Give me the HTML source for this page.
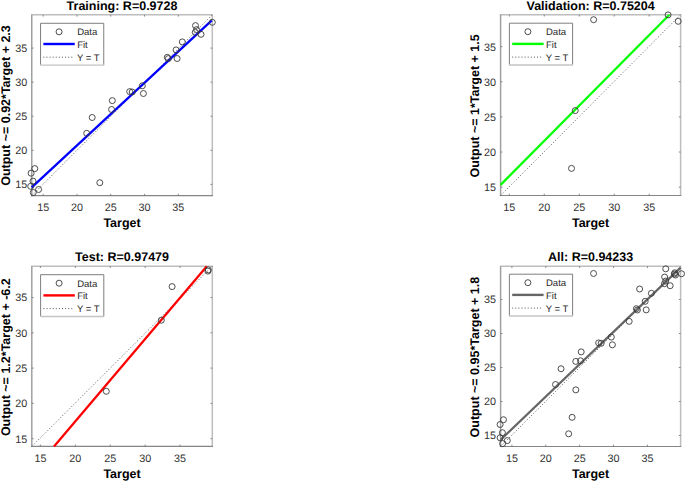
<!DOCTYPE html>
<html><head><meta charset="utf-8"><style>
html,body{margin:0;padding:0;background:#fff;width:685px;height:482px;overflow:hidden}
svg{position:absolute;left:0;top:0}
svg text{font-family:"Liberation Sans",sans-serif;text-rendering:geometricPrecision}
svg circle{fill:none;stroke:#3a3a3a;stroke-width:0.9}
.tk{font-size:10.8px;fill:#333}
.lb{font-size:12.5px;font-weight:bold;fill:#000}
.lg{font-size:9.5px;fill:#262626}
</style></head><body>
<svg width="685" height="482" viewBox="0 0 685 482"><g><path d="M31 14.8H213.05M212.3 14.8V195.6" fill="none" stroke="#bdbdbd" stroke-width="1.5"/><path d="M31.75 14.8V196.2" fill="none" stroke="#a0a0a0" stroke-width="1.5"/><path d="M31 195.6H213.05" fill="none" stroke="#858585" stroke-width="1.2"/><path d="M43.2 195.6v-1.8M43.2 14.8v1.8M31.75 184.4h1.8M212.3 184.4h-1.8M76.97 195.6v-1.8M76.97 14.8v1.8M31.75 150.32h1.8M212.3 150.32h-1.8M110.75 195.6v-1.8M110.75 14.8v1.8M31.75 116.25h1.8M212.3 116.25h-1.8M144.53 195.6v-1.8M144.53 14.8v1.8M31.75 82.17h1.8M212.3 82.17h-1.8M178.3 195.6v-1.8M178.3 14.8v1.8M31.75 48.1h1.8M212.3 48.1h-1.8" stroke="#707070" stroke-width="0.8"/><line x1="31.75" y1="195.6" x2="212.3" y2="14.8" stroke="#555" stroke-width="1" stroke-dasharray="1 2.1"/><line x1="31.75" y1="187.3" x2="211.8" y2="20.45" stroke="#0000ff" stroke-width="2.25"/><circle cx="34.8" cy="168.6" r="3"/><circle cx="31.1" cy="173.2" r="3"/><circle cx="33" cy="181.1" r="3"/><circle cx="30.7" cy="186.3" r="3"/><circle cx="38.6" cy="189.5" r="3"/><circle cx="33.3" cy="192.5" r="3"/><circle cx="99.8" cy="182.7" r="3"/><circle cx="86.7" cy="133.3" r="3"/><circle cx="92.2" cy="117.5" r="3"/><circle cx="112.3" cy="100.6" r="3"/><circle cx="111.6" cy="109.5" r="3"/><circle cx="129.7" cy="91.6" r="3"/><circle cx="132.2" cy="92" r="3"/><circle cx="142.3" cy="85.8" r="3"/><circle cx="143.4" cy="93.5" r="3"/><circle cx="167.3" cy="57.3" r="3"/><circle cx="168.3" cy="58.6" r="3"/><circle cx="176.1" cy="49.9" r="3"/><circle cx="177.1" cy="58.5" r="3"/><circle cx="182.3" cy="41.9" r="3"/><circle cx="195.5" cy="25.6" r="3"/><circle cx="195.3" cy="32.3" r="3"/><circle cx="196.6" cy="29.6" r="3"/><circle cx="201" cy="34.3" r="3"/><circle cx="212.3" cy="22.3" r="3"/><text x="43.2" y="210.7" text-anchor="middle" class="tk">15</text><text x="27.15" y="188.3" text-anchor="end" class="tk">15</text><text x="76.97" y="210.7" text-anchor="middle" class="tk">20</text><text x="27.15" y="154.22" text-anchor="end" class="tk">20</text><text x="110.75" y="210.7" text-anchor="middle" class="tk">25</text><text x="27.15" y="120.15" text-anchor="end" class="tk">25</text><text x="144.53" y="210.7" text-anchor="middle" class="tk">30</text><text x="27.15" y="86.08" text-anchor="end" class="tk">30</text><text x="178.3" y="210.7" text-anchor="middle" class="tk">35</text><text x="27.15" y="52" text-anchor="end" class="tk">35</text><text x="122.03" y="9.7" text-anchor="middle" class="lb">Training: R=0.9728</text><text x="122.03" y="227" text-anchor="middle" class="lb">Target</text><text transform="translate(10.25 105.5) rotate(-90)" text-anchor="middle" class="lb">Output ~= 0.92*Target + 2.3</text><rect x="40.55" y="23.3" width="63.2" height="41.5" fill="#fff"/><path d="M40.55 64.8V23.3H103.75V64.8" fill="none" stroke="#777" stroke-width="0.95"/><path d="M40.1 65.1H104.2" fill="none" stroke="#c4c4c4" stroke-width="1.4"/><circle cx="59.05" cy="31.8" r="3"/><line x1="43.35" y1="44" x2="74.75" y2="44" stroke="#0000ff" stroke-width="2.4"/><line x1="43.35" y1="57.2" x2="73.95" y2="57.2" stroke="#555" stroke-width="1" stroke-dasharray="1 2.1"/><text x="77.15" y="35.4" class="lg">Data</text><text x="77.15" y="47.8" class="lg">Fit</text><text x="76.95" y="60.8" class="lg">Y = T</text></g><g><path d="M499.85 14.7H681.35M680.6 14.7V195.5" fill="none" stroke="#bdbdbd" stroke-width="1.5"/><path d="M500.6 14.7V196.1" fill="none" stroke="#a0a0a0" stroke-width="1.5"/><path d="M499.85 195.5H681.35" fill="none" stroke="#858585" stroke-width="1.2"/><path d="M509.3 195.5v-1.8M509.3 14.7v1.8M500.6 187.2h1.8M680.6 187.2h-1.8M544.27 195.5v-1.8M544.27 14.7v1.8M500.6 152.05h1.8M680.6 152.05h-1.8M579.25 195.5v-1.8M579.25 14.7v1.8M500.6 116.9h1.8M680.6 116.9h-1.8M614.23 195.5v-1.8M614.23 14.7v1.8M500.6 81.75h1.8M680.6 81.75h-1.8M649.2 195.5v-1.8M649.2 14.7v1.8M500.6 46.6h1.8M680.6 46.6h-1.8" stroke="#707070" stroke-width="0.8"/><line x1="500.6" y1="195.5" x2="680.6" y2="14.7" stroke="#555" stroke-width="1" stroke-dasharray="1 2.1"/><line x1="500.6" y1="184.9" x2="669.4" y2="14.7" stroke="#00ff00" stroke-width="2.25"/><circle cx="593.6" cy="19.7" r="3"/><circle cx="668.1" cy="14.9" r="3"/><circle cx="678.2" cy="21.3" r="3"/><circle cx="575.25" cy="110.6" r="3"/><circle cx="571.5" cy="168.4" r="3"/><text x="509.3" y="210.6" text-anchor="middle" class="tk">15</text><text x="496" y="191.1" text-anchor="end" class="tk">15</text><text x="544.27" y="210.6" text-anchor="middle" class="tk">20</text><text x="496" y="155.95" text-anchor="end" class="tk">20</text><text x="579.25" y="210.6" text-anchor="middle" class="tk">25</text><text x="496" y="120.8" text-anchor="end" class="tk">25</text><text x="614.23" y="210.6" text-anchor="middle" class="tk">30</text><text x="496" y="85.65" text-anchor="end" class="tk">30</text><text x="649.2" y="210.6" text-anchor="middle" class="tk">35</text><text x="496" y="50.5" text-anchor="end" class="tk">35</text><text x="590.6" y="9.6" text-anchor="middle" class="lb">Validation: R=0.75204</text><text x="590.6" y="226.9" text-anchor="middle" class="lb">Target</text><text transform="translate(479.1 105.9) rotate(-90)" text-anchor="middle" class="lb">Output ~= 1*Target + 1.5</text><rect x="509.4" y="23.2" width="63.2" height="41.5" fill="#fff"/><path d="M509.4 64.7V23.2H572.6V64.7" fill="none" stroke="#777" stroke-width="0.95"/><path d="M508.95 65H573.05" fill="none" stroke="#c4c4c4" stroke-width="1.4"/><circle cx="527.9" cy="31.7" r="3"/><line x1="512.2" y1="43.9" x2="543.6" y2="43.9" stroke="#00ff00" stroke-width="2.4"/><line x1="512.2" y1="57.1" x2="542.8" y2="57.1" stroke="#555" stroke-width="1" stroke-dasharray="1 2.1"/><text x="546" y="35.3" class="lg">Data</text><text x="546" y="47.7" class="lg">Fit</text><text x="545.8" y="60.7" class="lg">Y = T</text></g><g><path d="M31.05 266.2H213.05M212.3 266.2V446.4" fill="none" stroke="#bdbdbd" stroke-width="1.5"/><path d="M31.8 266.2V447" fill="none" stroke="#a0a0a0" stroke-width="1.5"/><path d="M31.05 446.4H213.05" fill="none" stroke="#858585" stroke-width="1.2"/><path d="M40.4 446.4v-1.8M40.4 266.2v1.8M31.8 438.7h1.8M212.3 438.7h-1.8M75.33 446.4v-1.8M75.33 266.2v1.8M31.8 403.4h1.8M212.3 403.4h-1.8M110.25 446.4v-1.8M110.25 266.2v1.8M31.8 368.1h1.8M212.3 368.1h-1.8M145.18 446.4v-1.8M145.18 266.2v1.8M31.8 332.8h1.8M212.3 332.8h-1.8M180.1 446.4v-1.8M180.1 266.2v1.8M31.8 297.5h1.8M212.3 297.5h-1.8" stroke="#707070" stroke-width="0.8"/><line x1="31.8" y1="446.4" x2="212.3" y2="266.2" stroke="#555" stroke-width="1" stroke-dasharray="1 2.1"/><line x1="54" y1="446.4" x2="206.8" y2="266.2" stroke="#ff0000" stroke-width="2.25"/><circle cx="106.3" cy="391.3" r="3"/><circle cx="161.3" cy="320.2" r="3"/><circle cx="172.1" cy="286.6" r="3"/><circle cx="207.9" cy="271.1" r="3"/><circle cx="208.3" cy="269.8" r="3"/><text x="40.4" y="461.5" text-anchor="middle" class="tk">15</text><text x="27.2" y="442.6" text-anchor="end" class="tk">15</text><text x="75.33" y="461.5" text-anchor="middle" class="tk">20</text><text x="27.2" y="407.3" text-anchor="end" class="tk">20</text><text x="110.25" y="461.5" text-anchor="middle" class="tk">25</text><text x="27.2" y="372" text-anchor="end" class="tk">25</text><text x="145.18" y="461.5" text-anchor="middle" class="tk">30</text><text x="27.2" y="336.7" text-anchor="end" class="tk">30</text><text x="180.1" y="461.5" text-anchor="middle" class="tk">35</text><text x="27.2" y="301.4" text-anchor="end" class="tk">35</text><text x="122.05" y="261.1" text-anchor="middle" class="lb">Test: R=0.97479</text><text x="122.05" y="478.4" text-anchor="middle" class="lb">Target</text><text transform="translate(10.3 357.2) rotate(-90)" text-anchor="middle" class="lb">Output ~= 1.2*Target + -6.2</text><rect x="40.6" y="274.7" width="63.2" height="41.5" fill="#fff"/><path d="M40.6 316.2V274.7H103.8V316.2" fill="none" stroke="#777" stroke-width="0.95"/><path d="M40.15 316.5H104.25" fill="none" stroke="#c4c4c4" stroke-width="1.4"/><circle cx="59.1" cy="283.2" r="3"/><line x1="43.4" y1="295.4" x2="74.8" y2="295.4" stroke="#ff0000" stroke-width="2.4"/><line x1="43.4" y1="308.6" x2="74" y2="308.6" stroke="#555" stroke-width="1" stroke-dasharray="1 2.1"/><text x="77.2" y="286.8" class="lg">Data</text><text x="77.2" y="299.2" class="lg">Fit</text><text x="77" y="312.2" class="lg">Y = T</text></g><g><path d="M499.85 266.3H681.35M680.6 266.3V446.5" fill="none" stroke="#bdbdbd" stroke-width="1.5"/><path d="M500.6 266.3V447.1" fill="none" stroke="#a0a0a0" stroke-width="1.5"/><path d="M499.85 446.5H681.35" fill="none" stroke="#858585" stroke-width="1.2"/><path d="M511.9 446.5v-1.8M511.9 266.3v1.8M500.6 435.5h1.8M680.6 435.5h-1.8M545.77 446.5v-1.8M545.77 266.3v1.8M500.6 401.5h1.8M680.6 401.5h-1.8M579.65 446.5v-1.8M579.65 266.3v1.8M500.6 367.5h1.8M680.6 367.5h-1.8M613.52 446.5v-1.8M613.52 266.3v1.8M500.6 333.5h1.8M680.6 333.5h-1.8M647.4 446.5v-1.8M647.4 266.3v1.8M500.6 299.5h1.8M680.6 299.5h-1.8" stroke="#707070" stroke-width="0.8"/><line x1="500.6" y1="446.5" x2="680.6" y2="266.3" stroke="#555" stroke-width="1" stroke-dasharray="1 2.1"/><line x1="500.6" y1="439.8" x2="680.6" y2="267.6" stroke="#666666" stroke-width="2.25"/><circle cx="503.48" cy="419.73" r="3"/><circle cx="500.1" cy="424.5" r="3"/><circle cx="502.4" cy="432.7" r="3"/><circle cx="500.1" cy="437.8" r="3"/><circle cx="507.29" cy="440.59" r="3"/><circle cx="502.6" cy="443.6" r="3"/><circle cx="568.67" cy="433.8" r="3"/><circle cx="555.53" cy="384.51" r="3"/><circle cx="561.05" cy="368.75" r="3"/><circle cx="581.2" cy="351.88" r="3"/><circle cx="580.5" cy="360.76" r="3"/><circle cx="598.66" cy="342.9" r="3"/><circle cx="601.16" cy="343.3" r="3"/><circle cx="611.29" cy="337.12" r="3"/><circle cx="612.4" cy="344.8" r="3"/><circle cx="636.37" cy="308.68" r="3"/><circle cx="637.37" cy="309.98" r="3"/><circle cx="645.19" cy="301.3" r="3"/><circle cx="646.2" cy="309.88" r="3"/><circle cx="651.41" cy="293.31" r="3"/><circle cx="664.65" cy="277.05" r="3"/><circle cx="664.45" cy="283.73" r="3"/><circle cx="665.75" cy="281.04" r="3"/><circle cx="670.17" cy="285.73" r="3"/><circle cx="681.5" cy="273.76" r="3"/><circle cx="593.55" cy="273.48" r="3"/><circle cx="665.71" cy="268.84" r="3"/><circle cx="675.49" cy="275.03" r="3"/><circle cx="575.78" cy="361.41" r="3"/><circle cx="572.14" cy="417.32" r="3"/><circle cx="575.82" cy="389.85" r="3"/><circle cx="629.17" cy="321.36" r="3"/><circle cx="639.64" cy="289" r="3"/><circle cx="674.36" cy="274.07" r="3"/><circle cx="674.75" cy="272.82" r="3"/><text x="511.9" y="461.6" text-anchor="middle" class="tk">15</text><text x="496" y="439.4" text-anchor="end" class="tk">15</text><text x="545.77" y="461.6" text-anchor="middle" class="tk">20</text><text x="496" y="405.4" text-anchor="end" class="tk">20</text><text x="579.65" y="461.6" text-anchor="middle" class="tk">25</text><text x="496" y="371.4" text-anchor="end" class="tk">25</text><text x="613.52" y="461.6" text-anchor="middle" class="tk">30</text><text x="496" y="337.4" text-anchor="end" class="tk">30</text><text x="647.4" y="461.6" text-anchor="middle" class="tk">35</text><text x="496" y="303.4" text-anchor="end" class="tk">35</text><text x="590.6" y="261.2" text-anchor="middle" class="lb">All: R=0.94233</text><text x="590.6" y="478.2" text-anchor="middle" class="lb">Target</text><text transform="translate(479.1 357.1) rotate(-90)" text-anchor="middle" class="lb">Output ~= 0.95*Target + 1.8</text><rect x="509.4" y="274.2" width="63.2" height="41.5" fill="#fff"/><path d="M509.4 315.7V274.2H572.6V315.7" fill="none" stroke="#777" stroke-width="0.95"/><path d="M508.95 316H573.05" fill="none" stroke="#c4c4c4" stroke-width="1.4"/><circle cx="527.9" cy="282.7" r="3"/><line x1="512.2" y1="294.9" x2="543.6" y2="294.9" stroke="#666666" stroke-width="2.4"/><line x1="512.2" y1="308.1" x2="542.8" y2="308.1" stroke="#555" stroke-width="1" stroke-dasharray="1 2.1"/><text x="546" y="286.3" class="lg">Data</text><text x="546" y="298.7" class="lg">Fit</text><text x="545.8" y="311.7" class="lg">Y = T</text></g></svg>
</body></html>
